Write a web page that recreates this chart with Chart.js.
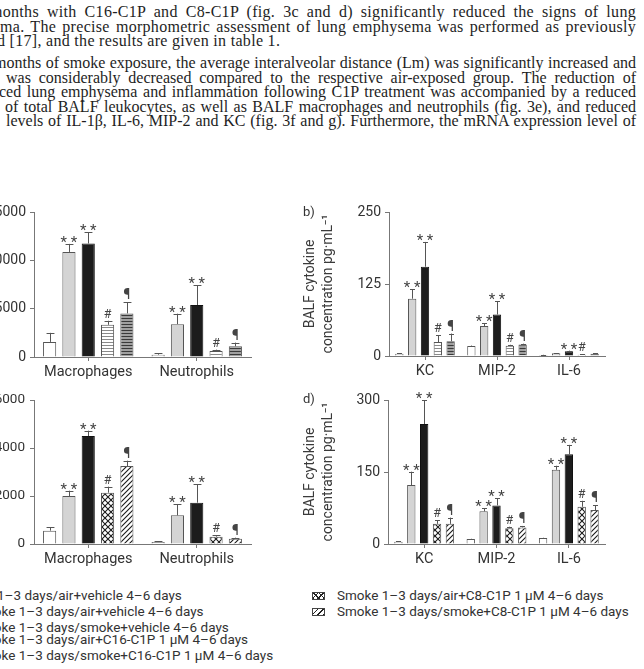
<!DOCTYPE html>
<html>
<head>
<meta charset="utf-8">
<script src="https://cdn.jsdelivr.net/npm/chart.js@4.4.0/dist/chart.umd.min.js"></script>
<style>
  body { margin: 0; background: #fff; width: 644px; height: 669px; overflow: hidden; position: relative; }
  .ln { position: absolute; font-family: "Liberation Serif", serif; font-size: 16px; line-height: 15px; color: #1e1e1e; white-space: nowrap; }
  .lg { position: absolute; font-family: Roboto, sans-serif; font-size: 13.5px; line-height: 15px; color: #333; white-space: nowrap; }
  .sw { position: absolute; width: 11px; height: 6px; border: 1px solid #444; }
  .pl { position: absolute; font-family: Roboto, sans-serif; font-size: 13px; color: #333; }
  canvas { position: absolute; }
</style>
</head>
<body>

<canvas id="chartA" width="290" height="190" style="left:0;top:195px"></canvas>
<canvas id="chartB" width="344" height="190" style="left:300px;top:195px"></canvas>
<canvas id="chartC" width="290" height="185" style="left:0;top:383px"></canvas>
<canvas id="chartD" width="344" height="185" style="left:300px;top:383px"></canvas>

<div class="pl" style="left:303px;top:204px">b)</div>
<div class="pl" style="left:303px;top:391px">d)</div>

<div id="legend"></div>

<script>
// ---- dados ----
const cellCats = ['Macrophages', 'Neutrophils'];
const cytoCats = ['KC', 'MIP-2', 'IL-6'];

const seriesC16 = [
  'Air 1–3 days/air+vehicle 4–6 days',
  'Smoke 1–3 days/air+vehicle 4–6 days',
  'Smoke 1–3 days/smoke+vehicle 4–6 days',
  'Smoke 1–3 days/air+C16-C1P 1 µM 4–6 days',
  'Smoke 1–3 days/smoke+C16-C1P 1 µM 4–6 days'
];
const seriesC8 = [
  'Smoke 1–3 days/air+C8-C1P 1 µM  4–6 days',
  'Smoke 1–3 days/smoke+C8-C1P 1 µM  4–6 days'
];

// a) células BALF (C16-C1P)
const aMean = [[1560, 240], [10870, 3400], [11740, 5380], [3330, 625], [4510, 1110]];
const aSem  = [[940, 140], [830, 1080], [1180, 2020], [420, 135], [1150, 380]];
const aMarks = [['', ''], ['**', '**'], ['**', '**'], ['#', '#'], ['¶', '¶']];
const aTicks = [0, 5000, 10000, 15000];

// b) citocinas BALF (C16-C1P)
const bMean = [[4, 17.4, 1.7], [99.5, 52, 4.6], [155, 72, 8.1], [24.3, 18, 2.3], [25.5, 20, 4]];
const bSem  = [[1, 0.8, 0.4], [16, 5, 0.6], [43, 23, 1.2], [12, 1.5, 0.4], [13.5, 1.4, 0.5]];
const bMarks = [['', '', ''], ['**', '**', ''], ['**', '**', '**'], ['#', '#', '#'], ['¶', '¶', '']];
const bTicks = [0, 125, 250];

// c) células BALF (C8-C1P)
const cMean = [[556, 83], [2000, 1194], [4500, 1722], [2139, 306], [3250, 222]];
const cSem  = [[138, 28], [222, 473], [222, 778], [250, 69], [222, 42]];
const cMarks = [['', ''], ['**', '**'], ['**', '**'], ['#', '#'], ['¶', '¶']];
const cTicks = [0, 2000, 4000, 6000];

// d) citocinas BALF (C8-C1P)
const dMean = [[4.9, 10.4, 12.5], [122.7, 68, 154.5], [250, 80.4, 187], [42, 33, 77.6], [42, 34.6, 70.7]];
const dSem  = [[1, 0.5, 0.5], [28, 6, 8.5], [49, 15, 19.5], [8, 3, 12.4], [13, 3, 10.3]];
const dMarks = [['', '', ''], ['**', '**', '**'], ['**', '**', '**'], ['#', '#', '#'], ['¶', '¶', '¶']];
const dTicks = [0, 150, 300];

const yTitle = ['BALF cytokine', 'concentration pg·mL⁻¹'];

// ---- texto do artigo ----
const textLines = [
  { t: 'months with C16-C1P and C8-C1P (fig. 3c and d) significantly reduced the signs of lung', x: -10, y: 12, j: true },
  { t: 'ma. The precise morphometric assessment of lung emphysema was performed as previously', x: 0, y: 27, j: true },
  { t: 'd [17], and the results are given in table 1.', x: -3, y: 41, j: false },
  { t: 'months of smoke exposure, the average interalveolar distance (Lm) was significantly increased and', x: -6, y: 63, j: true },
  { t: 'was considerably decreased compared to the respective air-exposed group. The reduction of', x: 6, y: 78, j: true },
  { t: 'ced lung emphysema and inflammation following C1P treatment was accompanied by a reduced', x: -1, y: 92, j: true },
  { t: 'of total BALF leukocytes, as well as BALF macrophages and neutrophils (fig. 3e), and reduced', x: 5, y: 107, j: true },
  { t: 'levels of IL-1β, IL-6, MIP-2 and KC (fig. 3f and g). Furthermore, the mRNA expression level of', x: 6, y: 121, j: true }
];
const textRight = 636;

// espaçamento: um pouco de letter-spacing quando cabe, senão só word-spacing
textLines.forEach(l => {
  const d = document.createElement('div');
  d.className = 'ln';
  d.textContent = l.t;
  d.style.left = l.x + 'px';
  d.style.top = (l.y - 8) + 'px';
  d.style.letterSpacing = '0.3px';
  document.body.appendChild(d);
  if (l.j) {
    const gaps = l.t.split(' ').length - 1;
    let extra = (textRight - l.x) - d.getBoundingClientRect().width;
    if (extra / gaps < 1.5) {
      d.style.letterSpacing = '0px';
      extra = (textRight - l.x) - d.getBoundingClientRect().width;
    }
    d.style.wordSpacing = (extra / gaps) + 'px';
  }
});

// ---- padrões ----
function makePattern(kind) {
  const c = document.createElement('canvas');
  const g = c.getContext('2d');
  if (kind === 'hLight') {
    c.width = 4; c.height = 3;
    g.fillStyle = '#fff'; g.fillRect(0, 0, 4, 3);
    g.fillStyle = '#8a8a8a'; g.fillRect(0, 0, 4, 1);
  } else if (kind === 'hDark') {
    c.width = 4; c.height = 3;
    g.fillStyle = '#a0a0a0'; g.fillRect(0, 0, 4, 3);
    g.fillStyle = '#3a3a3a'; g.fillRect(0, 0, 4, 1);
  } else if (kind === 'cross') {
    c.width = 6; c.height = 6;
    g.fillStyle = '#fff'; g.fillRect(0, 0, 6, 6);
    g.strokeStyle = '#1a1a1a'; g.lineWidth = 1.1;
    g.beginPath();
    g.moveTo(0, 0); g.lineTo(6, 6);
    g.moveTo(6, 0); g.lineTo(0, 6);
    g.stroke();
  } else if (kind === 'diag') {
    c.width = 5; c.height = 5;
    g.fillStyle = '#fff'; g.fillRect(0, 0, 5, 5);
    g.strokeStyle = '#1a1a1a'; g.lineWidth = 1.1;
    g.beginPath();
    g.moveTo(0, 5); g.lineTo(5, 0);
    g.moveTo(-1, 1); g.lineTo(1, -1);
    g.moveTo(4, 6); g.lineTo(6, 4);
    g.stroke();
  }
  return g.createPattern(c, 'repeat');
}

const fillsC16 = ['#ffffff', '#d4d4d4', '#1c1c1c', makePattern('hLight'), makePattern('hDark')];
const fillsC8  = ['#ffffff', '#d4d4d4', '#1c1c1c', makePattern('cross'), makePattern('diag')];

// ---- plugin barras de erro + marcas ----
const errorBars = {
  id: 'errorBars',
  afterDatasetsDraw(chart) {
    const ctx = chart.ctx;
    const y = chart.scales.y;
    ctx.save();
    chart.data.datasets.forEach((ds, i) => {
      const meta = chart.getDatasetMeta(i);
      meta.data.forEach((bar, j) => {
        const yTop = y.getPixelForValue(ds.data[j] + ds.sem[j]);
        const x = Math.round(bar.x) + 0.5;
        const cap = bar.width * 0.3;
        ctx.strokeStyle = '#555';
        ctx.lineWidth = 1;
        ctx.beginPath();
        ctx.moveTo(x, bar.y);
        ctx.lineTo(x, yTop);
        ctx.moveTo(x - cap, Math.round(yTop) + 0.5);
        ctx.lineTo(x + cap, Math.round(yTop) + 0.5);
        ctx.stroke();
        const m = ds.marks[j];
        if (m) {
          ctx.fillStyle = '#444';
          ctx.textAlign = 'center';
          ctx.textBaseline = 'alphabetic';
          if (m === '**') {
            ctx.font = '15px Roboto';
            ctx.fillText('* *', bar.x, yTop + 3);
          } else if (m === '¶') {
            ctx.font = '14px Roboto';
            ctx.fillText(m, bar.x, yTop - 3);
          } else {
            ctx.font = '12.5px Roboto';
            ctx.fillText(m, bar.x, yTop - 3);
          }
        }
      });
    });
    ctx.restore();
  }
};

Chart.defaults.font.family = 'Roboto';
Chart.defaults.color = '#3a3a3a';

function buildChart(id, cats, means, sems, marks, fills, ticks, opt) {
  const datasets = means.map((m, i) => ({
    data: m,
    sem: sems[i],
    marks: marks[i],
    backgroundColor: fills[i],
    borderColor: i === 2 ? '#111' : '#555',
    borderWidth: 1,
    borderSkipped: 'bottom',
    categoryPercentage: opt.catPct,
    barPercentage: opt.barPct
  }));
  return new Chart(document.getElementById(id), {
    type: 'bar',
    data: { labels: cats, datasets: datasets },
    plugins: [errorBars],
    options: {
      responsive: false,
      animation: false,
      layout: { padding: { left: 0, top: 17, right: opt.padRight, bottom: 0 } },
      plugins: { legend: { display: false }, tooltip: { enabled: false } },
      scales: {
        x: {
          offset: true,
          grid: { offset: false, drawOnChartArea: false, tickLength: 4, color: '#777' },
          border: { color: '#777' },
          ticks: { font: { size: 14.5 }, padding: 3, color: '#333', maxRotation: 0 },
          afterFit: s => { s.height = opt.xHeight; }
        },
        y: {
          min: 0,
          max: ticks[ticks.length - 1],
          afterBuildTicks: s => { s.ticks = ticks.map(v => ({ value: v })); },
          grid: { drawOnChartArea: false, tickLength: 4, color: '#777' },
          border: { color: '#777' },
          ticks: { font: { size: opt.tickSize }, padding: opt.tickPad, color: '#333', callback: v => String(v) },
          title: opt.title ? {
            display: true, text: opt.title, color: '#3a3a3a',
            font: { size: 14, lineHeight: 1.3 }, padding: { top: 1, bottom: 0 }
          } : { display: false },
          afterFit: s => { s.width = opt.yWidth; }
        }
      }
    }
  });
}

buildChart('chartA', cellCats, aMean, aSem, aMarks, fillsC16, aTicks,
  { catPct: 0.89, barPct: 0.68, padRight: 39, xHeight: 28, yWidth: 34, tickPad: 4, tickSize: 14, title: null });
buildChart('chartB', cytoCats, bMean, bSem, bMarks, fillsC16, bTicks,
  { catPct: 0.89, barPct: 0.65, padRight: 39, xHeight: 29, yWidth: 89, tickPad: 4, tickSize: 14, title: yTitle });
buildChart('chartC', cellCats, cMean, cSem, cMarks, fillsC8, cTicks,
  { catPct: 0.89, barPct: 0.68, padRight: 39, xHeight: 24, yWidth: 34, tickPad: 5, tickSize: 13.5, title: null });
buildChart('chartD', cytoCats, dMean, dSem, dMarks, fillsC8, dTicks,
  { catPct: 0.89, barPct: 0.65, padRight: 39, xHeight: 24, yWidth: 88, tickPad: 4, tickSize: 14, title: yTitle });

// ---- legenda ----
const legend = document.getElementById('legend');
const leftRows = [
  { x: -23, y: 596 }, { x: -26, y: 612 }, { x: -26, y: 628 }, { x: -26, y: 640 }, { x: -26, y: 656 }
];
seriesC16.forEach((s, i) => {
  const d = document.createElement('div');
  d.className = 'lg';
  d.textContent = s;
  d.style.left = leftRows[i].x + 'px';
  d.style.top = (leftRows[i].y - 8) + 'px';
  legend.appendChild(d);
});
const swatchCss = [
  'repeating-linear-gradient(45deg,#222 0 1px,transparent 1px 4px),repeating-linear-gradient(-45deg,#222 0 1px,transparent 1px 4px),#fff',
  'repeating-linear-gradient(-45deg,#222 0 1px,#fff 1px 4px)'
];
seriesC8.forEach((s, i) => {
  const y = 596 + i * 16;
  const sw = document.createElement('div');
  sw.className = 'sw';
  sw.style.left = '312px';
  sw.style.top = (y - 4) + 'px';
  sw.style.background = swatchCss[i];
  legend.appendChild(sw);
  const d = document.createElement('div');
  d.className = 'lg';
  d.textContent = s;
  d.style.left = '337px';
  d.style.top = (y - 8) + 'px';
  legend.appendChild(d);
});
</script>
</body>
</html>
